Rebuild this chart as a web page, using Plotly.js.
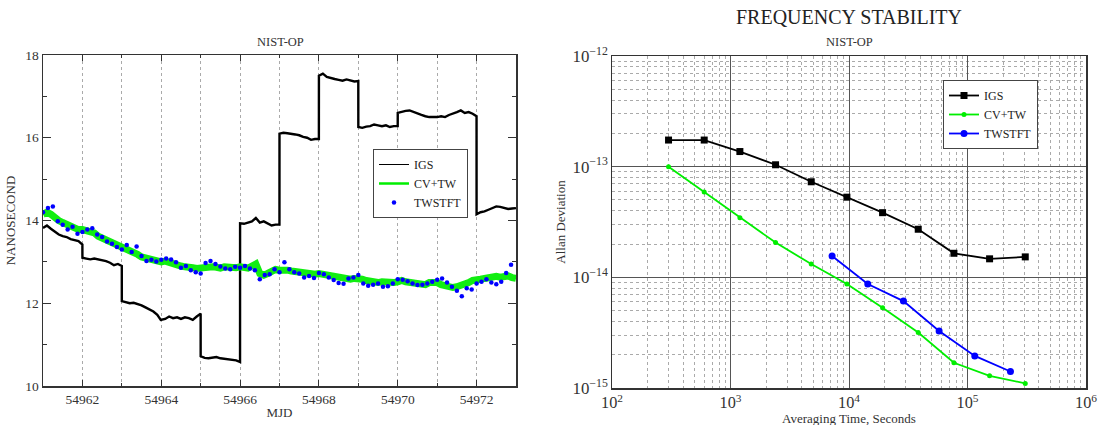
<!DOCTYPE html>
<html>
<head>
<meta charset="utf-8">
<script src="https://cdn.plot.ly/plotly-3.0.1.min.js"></script>
<style>html,body{margin:0;padding:0;background:#fff}#chart{width:1098px;height:425px}</style>
</head>
<body>
<div id="chart"></div>
<script>
// ---------- Left chart: NIST-OP time differences (ns) ----------
const igsDays = [54961,54962,54963,54964,54965,54966,54967,54968,54969,54970,54971,54972];
// 11 samples per day (every 0.1 day, last one at day end)
const igsValues = [
  [13.82,13.88,13.80,13.72,13.66,13.62,13.60,13.55,13.52,13.50,13.42],
  [13.10,13.08,13.06,13.08,13.06,13.04,13.02,12.98,12.92,12.95,12.90],
  [12.05,12.02,12.00,12.01,11.98,11.95,11.90,11.85,11.80,11.72,11.58],
  [11.60,11.62,11.68,11.64,11.66,11.62,11.66,11.64,11.60,11.68,11.75],
  [10.72,10.68,10.67,10.68,10.70,10.67,10.66,10.65,10.63,10.62,10.58],
  [13.93,13.92,13.95,13.98,14.06,13.95,13.98,13.92,13.88,13.90,13.90],
  [16.10,16.12,16.11,16.10,16.08,16.06,16.02,16.00,15.95,15.97,15.97],
  [17.50,17.55,17.47,17.44,17.42,17.40,17.38,17.41,17.38,17.36,17.37],
  [16.26,16.24,16.27,16.28,16.32,16.30,16.28,16.30,16.26,16.28,16.28],
  [16.60,16.63,16.65,16.66,16.62,16.58,16.55,16.52,16.50,16.50,16.50],
  [16.50,16.52,16.50,16.55,16.58,16.62,16.66,16.60,16.62,16.58,16.52],
  [14.15,14.20,14.22,14.26,14.30,14.34,14.33,14.30,14.28,14.29,14.30]
];
// CV+TW, every 0.1 day from 54961.0 to 54973.0
const cvtwStart = 54961, cvtwStep = 0.1;
const cvtwValues = [
  14.15,14.20,14.15,14.05,14.00,13.95,13.90,13.88,13.82,13.78,
  13.78,13.75,13.72,13.70,13.62,13.58,13.52,13.48,13.42,13.38,
  13.35,13.30,13.28,13.22,13.18,13.12,13.10,13.05,13.03,13.02,
  13.00,13.02,12.98,12.95,12.92,12.90,12.88,12.85,12.86,12.84,
  12.85,12.88,12.90,12.88,12.87,12.85,12.88,12.86,12.84,12.86,
  12.88,12.86,12.85,12.90,12.95,12.72,12.68,12.72,12.78,12.82,
  12.80,12.82,12.80,12.78,12.76,12.74,12.72,12.70,12.72,12.70,
  12.72,12.70,12.68,12.66,12.65,12.62,12.60,12.60,12.58,12.60,
  12.60,12.58,12.55,12.52,12.52,12.50,12.52,12.50,12.52,12.50,
  12.52,12.55,12.52,12.50,12.48,12.50,12.48,12.45,12.50,12.52,
  12.50,12.45,12.42,12.40,12.38,12.40,12.42,12.45,12.50,12.55,
  12.55,12.58,12.60,12.62,12.62,12.65,12.63,12.65,12.66,12.62,
  12.60
];
// TWSTFT, every 0.125 day from 54961.0
const twStart = 54961, twStep = 0.125;
const twValues = [
  14.20,14.30,14.34,13.98,13.90,13.78,13.85,13.68,
  13.72,13.78,13.81,13.66,13.60,13.49,13.44,13.36,
  13.30,13.41,13.24,13.37,13.14,13.02,13.05,13.01,
  13.05,13.08,13.06,12.99,12.86,12.90,12.80,12.75,
  12.72,12.97,13.02,12.95,12.89,12.84,12.82,12.88,
  12.86,12.90,12.84,12.80,12.58,12.68,12.70,12.82,
  12.75,12.99,12.82,12.75,12.72,12.62,12.66,12.61,
  12.73,12.70,12.62,12.56,12.49,12.47,12.60,12.62,
  12.68,12.48,12.42,12.45,12.48,12.40,12.41,12.48,
  12.58,12.57,12.53,12.48,12.44,12.45,12.48,12.52,
  12.57,12.60,12.50,12.40,12.30,12.17,12.36,12.33,
  12.48,12.52,12.58,12.50,12.46,12.52,12.73,12.93
];

// ---------- Right chart: Allan deviation ----------
const tauIGS  = [300,600,1200,2400,4800,9600,19200,38400,76800,153600,307200];
const adevIGS = [1.74e-13,1.74e-13,1.37e-13,1.04e-13,7.3e-14,5.3e-14,3.84e-14,2.72e-14,1.65e-14,1.47e-14,1.53e-14];
const tauCV   = [300,600,1200,2400,4800,9600,19200,38400,76800,153600,307200];
const adevCV  = [1.0e-13,5.9e-14,3.45e-14,2.06e-14,1.32e-14,8.7e-15,5.3e-15,3.17e-15,1.69e-15,1.29e-15,1.10e-15];
const tauTW   = [7200,14400,28800,57600,115200,230400];
const adevTW  = [1.56e-14,8.7e-15,6.1e-15,3.28e-15,1.95e-15,1.41e-15];

// build x arrays from the sampling scheme
const igsX = [], igsY = [];
igsDays.forEach((d, i) => {
  igsValues[i].forEach((v, k) => {
    igsX.push(k === 10 ? d + 0.999 : d + k / 10);
    igsY.push(v);
  });
});
const cvX = cvtwValues.map((v, i) => cvtwStart + i * cvtwStep);
const twX = twValues.map((v, i) => twStart + i * twStep);

const serif = 'Liberation Serif, Times New Roman, serif';
const W = 1098, H = 425;
const px = x => x / W, py = y => 1 - y / H;

const traces = [
  {x: igsX, y: igsY, type: 'scatter', mode: 'lines', name: 'IGS', showlegend: false,
   line: {color: '#000', width: 2.4}, xaxis: 'x', yaxis: 'y', legend: 'legend'},
  {x: [null], y: [null], type: 'scatter', mode: 'lines', name: 'IGS',
   line: {color: '#000', width: 1}, xaxis: 'x', yaxis: 'y', legend: 'legend'},
  {x: cvX, y: cvtwValues, type: 'scatter', mode: 'lines', name: 'CV+TW', showlegend: false,
   line: {color: '#11ee11', width: 7}, xaxis: 'x', yaxis: 'y', legend: 'legend'},
  {x: [null], y: [null], type: 'scatter', mode: 'lines', name: 'CV+TW',
   line: {color: '#00ee00', width: 2.5}, xaxis: 'x', yaxis: 'y', legend: 'legend'},
  {x: twX, y: twValues, type: 'scatter', mode: 'markers', name: 'TWSTFT',
   marker: {color: '#0000ff', size: 4.5}, xaxis: 'x', yaxis: 'y', legend: 'legend'},

  {x: tauIGS, y: adevIGS, type: 'scatter', mode: 'lines+markers', name: 'IGS',
   line: {color: '#000', width: 1.8}, marker: {symbol: 'square', size: 7, color: '#000'},
   xaxis: 'x2', yaxis: 'y2', legend: 'legend2'},
  {x: tauCV, y: adevCV, type: 'scatter', mode: 'lines+markers', name: 'CV+TW',
   line: {color: '#00ee00', width: 1.8}, marker: {symbol: 'circle', size: 5, color: '#00ee00'},
   xaxis: 'x2', yaxis: 'y2', legend: 'legend2'},
  {x: tauTW, y: adevTW, type: 'scatter', mode: 'lines+markers', name: 'TWSTFT',
   line: {color: '#0000ff', width: 1.8}, marker: {symbol: 'circle', size: 7, color: '#0000ff'},
   xaxis: 'x2', yaxis: 'y2', legend: 'legend2'}
];

const tickFont = {family: serif, size: 13.5, color: '#333'};
const titleFont = {family: serif, size: 13, color: '#333'};

const layout = {
  width: W, height: H,
  margin: {l: 0, r: 0, t: 0, b: 0},
  paper_bgcolor: '#fff', plot_bgcolor: '#fff',
  font: {family: serif, color: '#222'},
  xaxis: {
    domain: [px(43), px(516)], anchor: 'y',
    range: [54961, 54973], tick0: 54962, dtick: 2,
    showgrid: true, gridcolor: '#aaa', griddash: 'dot', gridwidth: 1,
    ticks: 'inside', ticklen: 6, tickcolor: '#333',
    minor: {dtick: 1, showgrid: true, gridcolor: '#aaa', griddash: 'dot', ticks: 'inside', ticklen: 3},
    showline: true, linecolor: '#333', linewidth: 1.5, mirror: 'ticks',
    zeroline: false, tickfont: tickFont, tickformat: 'd',
    title: {text: 'MJD', font: titleFont, standoff: 2}
  },
  yaxis: {
    domain: [py(386), py(55)], anchor: 'x',
    range: [10, 18], dtick: 2,
    showgrid: false, ticks: 'inside', ticklen: 8, tickcolor: '#333',
    minor: {dtick: 1, ticks: 'inside', ticklen: 4, tickcolor: '#333'},
    showline: true, linecolor: '#333', linewidth: 1.5, mirror: 'ticks',
    zeroline: false, tickfont: tickFont,
    title: {text: 'NANOSECOND', font: titleFont, standoff: 6}
  },
  xaxis2: {
    domain: [px(612), px(1086)], anchor: 'y2',
    type: 'log', range: [2, 6], dtick: 1, exponentformat: 'power',
    showgrid: true, gridcolor: '#555', gridwidth: 1,
    minor: {dtick: 'D1', showgrid: true, gridcolor: '#aaa', griddash: 'dot', gridwidth: 1},
    ticks: '', showline: true, linecolor: '#333', linewidth: 1.5, mirror: true,
    zeroline: false, tickfont: {family: serif, size: 13, color: '#333'}
  },
  yaxis2: {
    domain: [py(388), py(56)], anchor: 'x2',
    type: 'log', range: [-15, -12], dtick: 1, exponentformat: 'power',
    showgrid: true, gridcolor: '#555', gridwidth: 1,
    minor: {dtick: 'D1', showgrid: true, gridcolor: '#aaa', griddash: 'dot', gridwidth: 1},
    ticks: '', showline: true, linecolor: '#333', linewidth: 1.5, mirror: true,
    zeroline: false, tickfont: tickFont,
    title: {text: 'Allan Deviation', font: titleFont, standoff: 4}
  },
  legend: {
    x: px(373), y: py(149), xanchor: 'left', yanchor: 'top',
    bgcolor: '#fff', bordercolor: '#444', borderwidth: 1,
    font: {family: serif, size: 12, color: '#222'},
    tracegroupgap: 0, itemwidth: 30
  },
  legend2: {
    x: px(943), y: py(80), xanchor: 'left', yanchor: 'top',
    bgcolor: '#fff', bordercolor: '#444', borderwidth: 1,
    font: {family: serif, size: 12, color: '#222'},
    tracegroupgap: 0, itemwidth: 30
  },
  annotations: [
    {text: 'NIST-OP', x: px(280), y: py(42), xref: 'paper', yref: 'paper',
     xanchor: 'center', yanchor: 'middle',
     showarrow: false, font: {family: serif, size: 12.5, color: '#333'}},
    {text: 'FREQUENCY STABILITY', x: px(849), y: py(17), xref: 'paper', yref: 'paper',
     xanchor: 'center', yanchor: 'middle',
     showarrow: false, font: {family: serif, size: 20, color: '#222'}},
    {text: 'NIST-OP', x: px(849), y: py(42), xref: 'paper', yref: 'paper',
     xanchor: 'center', yanchor: 'middle',
     showarrow: false, font: {family: serif, size: 12.5, color: '#333'}},
    {text: 'Averaging Time, Seconds', x: px(849), y: py(418), xref: 'paper', yref: 'paper',
     xanchor: 'center', yanchor: 'middle',
     showarrow: false, font: titleFont}
  ]
};

Plotly.newPlot('chart', traces, layout, {displayModeBar: false, staticPlot: true});
</script>
</body>
</html>
